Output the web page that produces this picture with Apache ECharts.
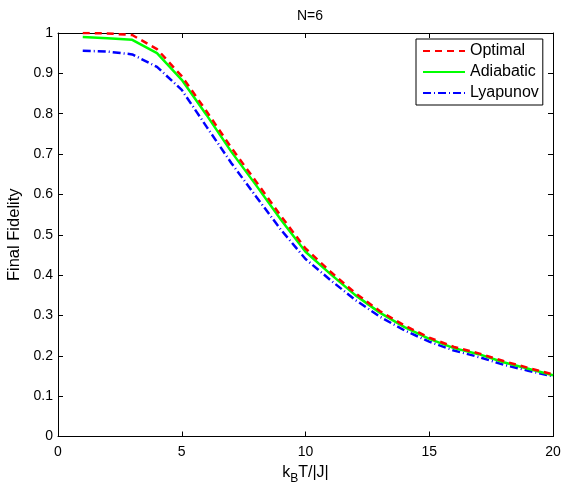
<!DOCTYPE html>
<html>
<head>
<meta charset="utf-8">
<script src="https://cdn.jsdelivr.net/npm/echarts@6/dist/echarts.min.js"></script>
<style>html,body{margin:0;padding:0;background:#fff;}#c{width:563px;height:482px;}</style>
</head>
<body>
<div id="c"></div>
<script>
const xValues = [1,2,3,4,5,6,7,8,9,10,11,12,13,14,15,16,17,18,19,20];
const optimal = [1.0,0.999,0.995,0.960,0.893,0.806,0.716,0.632,0.547,0.466,0.409,0.356,0.311,0.275,0.245,0.222,0.206,0.187,0.170,0.154];
const adiabatic = [0.990,0.987,0.983,0.950,0.884,0.797,0.706,0.623,0.538,0.458,0.403,0.351,0.307,0.271,0.242,0.219,0.204,0.184,0.168,0.152];
const lyapunov = [0.956,0.954,0.947,0.916,0.859,0.768,0.678,0.595,0.513,0.440,0.388,0.339,0.297,0.263,0.235,0.213,0.197,0.178,0.163,0.149];
const yTicks = ['0','0.1','0.2','0.3','0.4','0.5','0.6','0.7','0.8','0.9','1'];
const xTicks = ['0','5','10','15','20'];

const pair = arr => xValues.map((x,i)=>[x,arr[i]]);
const font = 'Liberation Sans, Arial, sans-serif';
const chart = echarts.init(document.getElementById('c'));
const axisCommon = () => ({
  axisLine:{show:true,onZero:false,lineStyle:{color:'#000',width:1}},
  axisTick:{show:true,inside:true,length:5,lineStyle:{color:'#000'}},
  splitLine:{show:false}
});
chart.setOption({
  animation:false,
  backgroundColor:'#fff',
  title:{text:'N=6',left:305,top:4,textAlign:'center',textStyle:{fontFamily:font,fontSize:14,fontWeight:'normal',color:'#000'}},
  grid:{left:58,right:10,top:33,bottom:45.5,outerBoundsMode:'none',containLabel:false},
  legend:{
    left:416,top:39,orient:'vertical',
    backgroundColor:'#fff',borderColor:'#000',borderWidth:1,
    padding:[4,4,4,6],itemGap:5,itemWidth:42,itemHeight:16,
    itemStyle:{opacity:0},
    textStyle:{fontFamily:font,fontSize:16,color:'#000',padding:[0,0,0,0]},
    data:['Optimal','Adiabatic','Lyapunov']
  },
  xAxis:[
    Object.assign(axisCommon(),{type:'value',min:0,max:20,interval:5,position:'bottom',
      name:'{a|k}{b|B}{a|T/|J|}',nameLocation:'middle',nameGap:25,
      nameTextStyle:{rich:{a:{fontFamily:font,fontSize:16,color:'#000'},b:{fontFamily:font,fontSize:12,color:'#000',padding:[11,0,0,0]}}},
      axisLabel:{fontFamily:font,fontSize:14,color:'#000',margin:9,formatter:v=>xTicks[v/5]}}),
    Object.assign(axisCommon(),{type:'value',min:0,max:20,interval:5,position:'top',axisLabel:{show:false}})
  ],
  yAxis:[
    Object.assign(axisCommon(),{type:'value',min:0,max:1,interval:0.1,position:'left',
      name:'Final Fidelity',nameLocation:'middle',nameGap:32,nameRotate:90,
      nameTextStyle:{fontFamily:font,fontSize:16.5,color:'#000'},
      axisLabel:{fontFamily:font,fontSize:14,color:'#000',margin:5,formatter:v=>yTicks[Math.round(v*10)]}}),
    Object.assign(axisCommon(),{type:'value',min:0,max:1,interval:0.1,position:'right',axisLabel:{show:false}})
  ],
  series:[
    {name:'Optimal',type:'line',data:pair(optimal),symbol:'none',color:'#ff0000',lineStyle:{color:'#ff0000',width:2.5,type:[7,5]},z:3},
    {name:'Adiabatic',type:'line',data:pair(adiabatic),symbol:'none',color:'#00ff00',lineStyle:{color:'#00ff00',width:2.5,type:'solid'},z:2},
    {name:'Lyapunov',type:'line',data:pair(lyapunov),symbol:'none',color:'#0000ff',lineStyle:{color:'#0000ff',width:2.5,type:[8,3,1,3]},z:1}
  ]
});
</script>
</body>
</html>
